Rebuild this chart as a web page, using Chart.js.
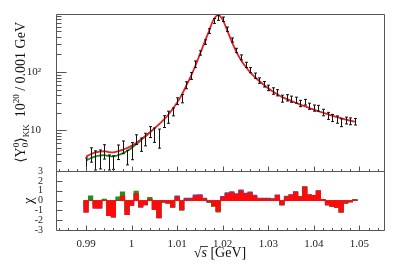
<!DOCTYPE html>
<html>
<head>
<meta charset="utf-8">
<title>Y00 KK moment</title>
<script src="https://cdn.jsdelivr.net/npm/chart.js@4"></script>
<style>
  body { margin: 0; background: #fff; }
  #wrap { width: 407px; height: 266px; }
</style>
</head>
<body>
<div id="wrap"><canvas id="myChart" width="407" height="266"></canvas></div>
<script>
// bin centres (sqrt(s), GeV), 1 MeV bins
var mass = [0.990, 0.991, 0.992, 0.993, 0.994, 0.995, 0.996, 0.997, 0.998, 0.999,
            1.000, 1.001, 1.002, 1.003, 1.004, 1.005, 1.006, 1.007, 1.008, 1.009,
            1.010, 1.011, 1.012, 1.013, 1.014, 1.015, 1.016, 1.017, 1.018, 1.019,
            1.020, 1.021, 1.022, 1.023, 1.024, 1.025, 1.026, 1.027, 1.028, 1.029,
            1.030, 1.031, 1.032, 1.033, 1.034, 1.035, 1.036, 1.037, 1.038, 1.039,
            1.040, 1.041, 1.042, 1.043, 1.044, 1.045, 1.046, 1.047, 1.048, 1.049];

// measured moment and its error
var counts = [2.39, 3.95, 3.29, 3.41, 4.46, 2.95, 2.91, 4.4, 5.3, 3.57,
              4.67, 7.08, 5.9, 7.19, 9.58, 8.62, 7.76, 14.54, 17.3, 21.0,
              31.9, 35.4, 59.9, 86.5, 137, 212.7, 325.9, 504.4, 751, 850.5,
              803, 542, 354, 234.6, 178.7, 133.1, 108, 86.9, 71.8, 62.0,
              53.8, 47.6, 44.4, 35.3, 36.4, 34.5, 33.2, 29.1, 30.6, 26.1,
              24.3, 24.1, 20.4, 17.9, 16.5, 15.5, 13.7, 14.9, 14.45, 14.2];
var errs = [0.99, 1.09, 1.18, 1.22, 1.23, 0.85, 0.76, 1.23, 1.3, 1.0,
            1.52, 1.34, 1.52, 1.75, 2.03, 2.38, 2.79, 3.32, 4.05, 3.25,
            4.23, 5.7, 8.19, 11.8, 17.9, 18.3, 28.9, 45.8, 71, 85,
            70, 45.8, 29.6, 20, 17.7, 13.6, 10.9, 9.1, 7.7, 6.7,
            5.8, 6.06, 5.4, 4.86, 4.5, 4.17, 3.87, 3.6, 3.37, 3.15,
            2.95, 2.77, 2.61, 2.47, 2.33, 2.21, 2.1, 2.0, 1.91, 1.83];

// fit curves
var fitRed = [3.55, 3.9, 4.2, 4.35, 4.4, 4.25, 4.2, 4.4, 4.65, 5.0,
              5.43, 6.1, 6.92, 7.94, 9.23, 10.84, 12.7, 15.1, 18.4, 23.2,
              30.2, 40.7, 58.5, 84.5, 128, 203, 321, 509, 789, 944,
              780, 509, 329, 222, 161, 124, 99.3, 82.6, 70.3, 60.7,
              52.8, 46.6, 41.5, 37.4, 34.6, 32.1, 29.8, 27.7, 25.9, 24.2,
              22.7, 21.3, 20.1, 19.0, 17.9, 17.0, 16.2, 15.4, 14.7, 14.1];
var fitGreen = [3.04, 3.34, 3.6, 3.72, 3.77, 3.64, 3.6, 3.77, 4.05, 4.45,
                5.0, 5.8, 6.78, 7.94, 9.23];

// pulls for the three fits
var chiRed = [-1.17, 0.05, -0.77, -0.77, 0.05, -1.53, -1.7, 0.0, 0.5, -1.43,
              -0.5, 0.73, -0.67, -0.43, 0.17, -0.93, -1.77, -0.17, -0.27, -0.67,
              0.4, -0.93, 0.17, 0.17, 0.5, 0.53, 0.17, -0.1, -0.53, -1.1,
              0.33, 0.73, 0.83, 0.63, 1.0, 0.67, 0.8, 0.47, 0.2, 0.2,
              0.17, 0.17, 0.53, -0.43, 0.4, 0.57, 0.87, 0.4, 1.4, 0.6,
              0.53, 1.0, 0.13, -0.43, -0.6, -0.7, -1.17, -0.27, -0.13, 0.07];
var chiGreen = [-0.6, 0.5, -0.4, -0.4, 0.17, -1.1, -1.3, 0.4, 0.9, -1.1,
                -0.2, 0.97, -0.5, -0.3, 0.33, -0.85, -1.7, -0.17, -0.27, -0.67,
                0.4, -1.0, 0.17, 0.17, 0.5, 0.53, 0.17, -0.2, -0.6, -1.17,
                0.33, 0.73, 0.83, 0.63, 1.0, 0.67, 0.8, 0.47, 0.2, 0.2,
                0.17, 0.17, 0.53, -0.43, 0.4, 0.57, 0.87, 0.4, 1.4, 0.6,
                0.53, 1.0, 0.13, -0.43, -0.6, -0.7, -1.17, -0.27, -0.13, 0.12];
var chiBlue = [-1.17, 0.05, -0.77, -0.77, 0.05, -1.53, -1.7, 0.0, 0.5, -1.43,
               -0.5, 0.73, -0.67, -0.43, 0.17, -0.93, -1.77, -0.17, -0.27, -0.67,
               0.5, -0.93, 0.27, 0.25, 0.6, 0.63, 0.27, -0.1, -0.53, -1.1,
               0.43, 0.83, 0.93, 0.73, 1.1, 0.77, 0.9, 0.57, 0.27, 0.27,
               0.25, 0.22, 0.6, -0.43, 0.47, 0.63, 0.93, 0.45, 1.4, 0.6,
               0.53, 1.0, 0.13, -0.43, -0.6, -0.7, -1.17, -0.27, -0.13, 0.07];

var xTickLabels = ['0.99', '1', '1.01', '1.02', '1.03', '1.04', '1.05'];

var SERIF = "'Liberation Serif', 'DejaVu Serif', serif";

function pts(xs, ys) {
    return ys.map(function (v, i) { return { x: xs[i], y: v }; });
}

// draws a row of text pieces (sizes / offsets for sub- and superscripts)
function drawPieces(ctx, pieces) {
    var total = 0;
    pieces.forEach(function (p) {
        ctx.font = (p.it ? 'italic ' : '') + p.s + 'px ' + SERIF;
        p.w = ctx.measureText(p.t).width;
        if (!p.keep) total += p.w;
    });
    var x = -total / 2;
    pieces.forEach(function (p) {
        ctx.font = (p.it ? 'italic ' : '') + p.s + 'px ' + SERIF;
        ctx.fillText(p.t, x, p.dy || 0);
        if (p.bar) {
            ctx.fillRect(x - 1, -p.s * 0.78, p.w + 2, 0.8);
        }
        if (!p.keep) x += p.w;
    });
}

var frame = {
    id: 'frame',
    afterDatasetsDraw: function (chart) {
        var ctx = chart.ctx, x = chart.scales.x, y = chart.scales.y;
        ctx.save();
        ctx.strokeStyle = '#111';
        ctx.lineWidth = 1;
        ctx.beginPath();
        mass.forEach(function (m, i) {
            var px = Math.round(x.getPixelForValue(m)) + 0.5;
            var top = y.getPixelForValue(counts[i] + errs[i]);
            var lo = counts[i] - errs[i];
            var bot = lo > y.min ? y.getPixelForValue(lo) : y.bottom;
            ctx.moveTo(px, top); ctx.lineTo(px, bot);
            ctx.moveTo(px - 1.5, top); ctx.lineTo(px + 1.5, top);
            if (lo > y.min) { ctx.moveTo(px - 1.5, bot); ctx.lineTo(px + 1.5, bot); }
        });
        ctx.stroke();
        ctx.restore();
    },
    afterDraw: function (chart) {
        var ctx = chart.ctx, x = chart.scales.x, y = chart.scales.y, chi = chart.scales.chi;
        var L = Math.round(chart.chartArea.left) + 0.5, R = Math.round(chart.chartArea.right) + 0.5;
        var T = Math.round(chart.chartArea.top) + 0.5, B = Math.round(chart.chartArea.bottom) + 0.5;
        var mid = Math.round(y.bottom) + 0.5;
        ctx.save();
        ctx.strokeStyle = '#555';
        ctx.lineWidth = 1;
        ctx.beginPath();
        ctx.rect(L, T, R - L, B - T);
        ctx.moveTo(L, mid); ctx.lineTo(R, mid);
        // log ticks
        [1, 10, 100].forEach(function (d) {
            for (var k = 1; k <= 9; k++) {
                var v = k * d;
                if (v <= y.min || v >= y.max) continue;
                var py = Math.round(y.getPixelForValue(v)) + 0.5;
                ctx.moveTo(L, py); ctx.lineTo(L + (k === 1 ? 10 : 5), py);
            }
        });
        // chi ticks
        for (var c = -2; c <= 2; c++) {
            var cy = Math.round(chi.getPixelForValue(c)) + 0.5;
            ctx.moveTo(L, cy); ctx.lineTo(L + 6, cy);
        }
        // x ticks on both panels
        for (var t = 984; t <= 1054; t += 2) {
            var px = Math.round(x.getPixelForValue(t / 1000)) + 0.5;
            var len = t % 10 === 0 ? 5 : 2.5;
            ctx.moveTo(px, mid); ctx.lineTo(px, mid - len);
            ctx.moveTo(px, B); ctx.lineTo(px, B - len);
        }
        ctx.stroke();

        ctx.fillStyle = '#111';
        ctx.textBaseline = 'alphabetic';
        ctx.textAlign = 'left';
        // y title
        ctx.save();
        ctx.translate(25, (y.top + y.bottom) / 2);
        ctx.rotate(-Math.PI / 2);
        drawPieces(ctx, [
            { t: '\u27E8Y', s: 14 },
            { t: '0', s: 9, dy: -6, keep: true },
            { t: '0', s: 9, dy: 3 },
            { t: '\u27E9', s: 14 },
            { t: 'KK', s: 9, dy: 4 },
            { t: '  10', s: 14 },
            { t: '20', s: 9, dy: -6 },
            { t: ' / 0.001 GeV', s: 14 }
        ]);
        ctx.restore();
        // chi title
        ctx.save();
        ctx.translate(33, (chi.top + chi.bottom) / 2);
        ctx.rotate(-Math.PI / 2);
        drawPieces(ctx, [{ t: '\u03C7', s: 15 }]);
        ctx.restore();
        // x title
        ctx.save();
        ctx.translate((x.left + x.right) / 2, 257);
        drawPieces(ctx, [
            { t: '\u221A', s: 14 },
            { t: 's', s: 14, it: true, bar: true },
            { t: ' [GeV]', s: 14 }
        ]);
        ctx.restore();
        ctx.restore();
    }
};

var ctx = document.getElementById('myChart');
new Chart(ctx, {
    type: 'line',
    plugins: [frame],
    data: {
        datasets: [
            {
                label: 'fit',
                data: pts(mass, fitRed),
                yAxisID: 'y',
                borderColor: '#ec1c24',
                borderWidth: 1.8,
                pointRadius: 0,
                cubicInterpolationMode: 'monotone',
                order: 1
            },
            {
                label: 'fit 2',
                data: pts(mass, fitGreen),
                yAxisID: 'y',
                borderColor: '#0f8a14',
                borderWidth: 1.8,
                pointRadius: 0,
                cubicInterpolationMode: 'monotone',
                order: 2
            },
            {
                type: 'bar',
                label: 'chi red',
                data: pts(mass, chiRed),
                yAxisID: 'chi',
                backgroundColor: '#ff0a0a',
                barPercentage: 1,
                categoryPercentage: 1,
                grouped: false,
                order: 3
            },
            {
                type: 'bar',
                label: 'chi green',
                data: pts(mass, chiGreen),
                yAxisID: 'chi',
                backgroundColor: '#17961b',
                barPercentage: 1,
                categoryPercentage: 1,
                grouped: false,
                order: 4
            },
            {
                type: 'bar',
                label: 'chi blue',
                data: pts(mass, chiBlue),
                yAxisID: 'chi',
                backgroundColor: '#4b3cf0',
                barPercentage: 1,
                categoryPercentage: 1,
                grouped: false,
                order: 5
            }
        ]
    },
    options: {
        responsive: false,
        animation: false,
        layout: { padding: { top: 9, right: 23, left: 0, bottom: 0 } },
        plugins: { legend: { display: false }, tooltip: { enabled: false } },
        scales: {
            x: {
                type: 'linear',
                min: 0.9834,
                max: 1.0554,
                offset: false,
                grid: { display: false },
                border: { display: false },
                ticks: {
                    stepSize: 0.01,
                    includeBounds: false,
                    autoSkip: false,
                    maxRotation: 0,
                    padding: 0,
                    color: '#222',
                    font: { family: SERIF, size: 11 },
                    callback: function (v) {
                        var i = Math.round((v - 0.99) * 100);
                        return xTickLabels[i] !== undefined ? xTickLabels[i] : '';
                    }
                },
                afterFit: function (s) { s.height = 36; }
            },
            chi: {
                type: 'linear',
                position: 'left',
                stack: 'panels',
                stackWeight: 60,
                min: -3,
                max: 3,
                grid: { display: false },
                border: { display: false },
                ticks: {
                    stepSize: 1,
                    autoSkip: false,
                    padding: 5,
                    color: '#222',
                    font: { family: SERIF, size: 10 }
                },
                afterFit: function (s) { s.width = 56; }
            },
            y: {
                type: 'logarithmic',
                position: 'left',
                stack: 'panels',
                stackWeight: 161,
                min: 2,
                max: 1000,
                grid: { display: false },
                border: { display: false },
                ticks: {
                    autoSkip: false,
                    padding: 7,
                    color: '#222',
                    font: { family: SERIF, size: 11 },
                    callback: function (v) {
                        if (Math.abs(v - 10) < 1e-6) return '10';
                        if (Math.abs(v - 100) < 1e-6) return '10\u00B2';
                        return '';
                    }
                },
                afterFit: function (s) { s.width = 56; }
            }
        }
    }
});
</script>
</body>
</html>
